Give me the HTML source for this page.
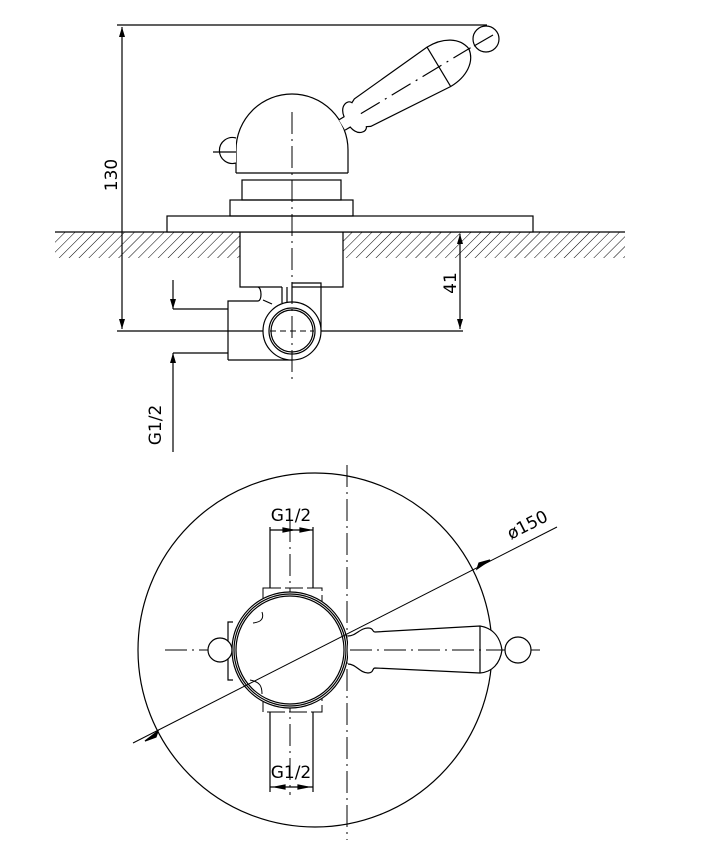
<!DOCTYPE html>
<html><head><meta charset="utf-8"><style>html,body{margin:0;padding:0;background:#fff}svg{display:block}</style></head>
<body>
<svg width="701" height="847" viewBox="0 0 701 847" xmlns="http://www.w3.org/2000/svg" font-family="DejaVu Sans, sans-serif">
<defs>
<pattern id="h" width="7" height="7" patternUnits="userSpaceOnUse" patternTransform="rotate(45)">
<line x1="0" y1="0" x2="0" y2="7" stroke="#000" stroke-width="1"/>
</pattern>
<marker id="a" viewBox="0 0 10 6" refX="10" refY="3" markerWidth="10" markerHeight="6" orient="auto-start-reverse" markerUnits="userSpaceOnUse"><path d="M0,0L10,3L0,6z" fill="#000"/></marker>
</defs>
<g fill="none" stroke="#000" stroke-width="1.2">
<rect x="55" y="232" width="185" height="26" fill="url(#h)" stroke="none"/>
<rect x="343" y="232" width="282" height="26" fill="url(#h)" stroke="none"/>
<line x1="55" y1="232" x2="625" y2="232"/>
<line x1="117" y1="25" x2="487" y2="25"/>
<line x1="122" y1="27" x2="122" y2="329" marker-start="url(#a)" marker-end="url(#a)"/>
<line x1="117" y1="331" x2="463" y2="331"/>
<rect x="167" y="216" width="366" height="16" fill="#fff"/>
<rect x="230" y="200" width="123" height="16"/>
<rect x="242" y="180" width="99" height="20"/>
<line x1="236" y1="173" x2="348" y2="173"/>
<path d="M236,173 L236,150 A56,56 0 0 1 348,150 L348,173"/>
<path d="M236,138 A13,13 0 1 0 236,163" fill="#fff"/>
<line x1="213" y1="152" x2="236" y2="152"/>
<g transform="translate(342,125) rotate(-31)">
<path d="M0,-6 L6,-6 C8,-18 18,-19 20,-14 L24,-16 L113,-23 C132,-23 146,-14 148,0 C146,14 132,23 113,23 L24,16 L20,14 C18,19 8,18 6,6 L0,6" fill="#fff"/>
<line x1="113" y1="-23" x2="113" y2="23"/>
<line x1="22" y1="0" x2="150" y2="0" stroke-dasharray="22,6,2,6"/>
</g>
<circle cx="486" cy="39" r="13" fill="#fff"/>
<line x1="474" y1="46" x2="493" y2="35"/>
<path d="M240,232 L240,287 L282,287 M292,287 L343,287 L343,232"/>
<path d="M292,331 L292,283 L321,283 L321,331"/>
<line x1="282" y1="287" x2="282" y2="303"/>
<line x1="287" y1="287" x2="287" y2="303"/>
<path d="M228,360 L228,301 L258,301 C262,301 262,288 258,287 M228,360 L292,360"/>
<line x1="263" y1="300" x2="272" y2="304"/>
<circle cx="292" cy="331" r="29" fill="#fff"/>
<circle cx="292" cy="331" r="23"/>
<circle cx="292" cy="331" r="21"/>
<line x1="292" y1="112" x2="292" y2="380" stroke-dasharray="22,5,2,5" stroke-width="1"/>
<line x1="270" y1="331" x2="314" y2="331" stroke-dasharray="6,4" stroke-width="1"/>
<line x1="460" y1="234" x2="460" y2="329" marker-start="url(#a)" marker-end="url(#a)"/>
<line x1="173" y1="309" x2="228" y2="309"/>
<line x1="173" y1="353" x2="228" y2="353"/>
<line x1="173" y1="280" x2="173" y2="309" marker-end="url(#a)"/>
<line x1="173" y1="452" x2="173" y2="353" marker-end="url(#a)"/>
<circle cx="315" cy="650" r="177"/>
<line x1="165" y1="650" x2="540" y2="650" stroke-dasharray="22,5,2,5" stroke-width="1"/>
<line x1="347" y1="465" x2="347" y2="840" stroke-dasharray="22,5,2,5" stroke-width="1"/>
<line x1="290" y1="520" x2="290" y2="795" stroke-dasharray="22,5,2,5" stroke-width="1"/>
<rect x="263" y="588" width="59" height="124" stroke-dasharray="18,4" stroke-width="1"/>
<path d="M233,622 L228,622 L228,680 L233,680"/>
<circle cx="220" cy="650" r="12" fill="#fff"/>
<circle cx="290" cy="650" r="58" fill="#fff"/>
<circle cx="290" cy="650" r="56"/>
<circle cx="290" cy="650" r="54"/>
<path d="M262,612 C264,618 262,622 253,623" stroke-width="1"/>
<path d="M250,680 C260,682 262,686 262,694" stroke-width="1"/>
<line x1="270" y1="527" x2="270" y2="588"/><line x1="313" y1="527" x2="313" y2="588"/>
<line x1="270" y1="712" x2="270" y2="792"/><line x1="313" y1="712" x2="313" y2="792"/>
<line x1="270" y1="530" x2="313" y2="530"/>
<path d="M283,528 L293,530 L283,532z M300,528 L310,530 L300,532z" fill="#000"/>
<line x1="270" y1="787" x2="313" y2="787"/>
<path d="M285,785 L275,787 L285,789z M298,785 L308,787 L298,789z" fill="#000"/>
<path d="M348,636 C356,636 360,628 368,628 C374,628 372,632 375,632 L480,626 C492,628 500,636 502,650 C500,664 492,672 480,673 L375,668 C372,668 374,673 368,673 C360,673 356,664 348,664" fill="#fff"/>
<line x1="480" y1="626" x2="480" y2="673"/>
<line x1="350" y1="650" x2="540" y2="650" stroke-dasharray="22,5,2,5" stroke-width="1"/>
<circle cx="518" cy="650" r="13" fill="#fff"/>
<line x1="133" y1="743" x2="557" y2="527" stroke-width="1"/>
<path d="M145,741 L158,731 L156,737z M490,560 L477,569 L479,563z" fill="#000"/>
</g>
<g font-size="17" fill="#000">
<text transform="translate(117,175) rotate(-90)" text-anchor="middle">130</text>
<text transform="translate(456,283) rotate(-90)" text-anchor="middle">41</text>
<text transform="translate(161,425) rotate(-90)" text-anchor="middle">G1/2</text>
<text x="291" y="521" text-anchor="middle">G1/2</text>
<text x="291" y="778" text-anchor="middle">G1/2</text>
<text transform="translate(530,530) rotate(-27)" text-anchor="middle">ø150</text>
</g>
</svg>
</body></html>
